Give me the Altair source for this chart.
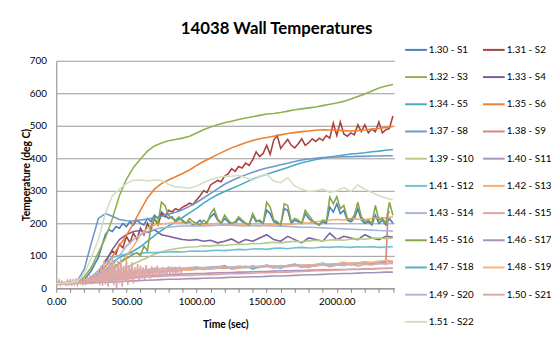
import altair as alt
import pandas as pd

# ---------------- data ----------------
T50 = list(range(0, 2401, 50))
T25 = list(range(0, 2401, 25))
T_PINK = list(range(0, 901, 10)) + list(range(950, 2401, 50))
T_S9 = list(range(0, 2351, 50)) + [2365, 2375, 2400]

names = ["1.30 - S1", "1.31 - S2", "1.32 - S3", "1.33 - S4", "1.34 - S5", "1.35 - S6",
         "1.37 - S8", "1.38 - S9", "1.39 - S10", "1.40 - S11", "1.41 - S12", "1.42 - S13",
         "1.43 - S14", "1.44 - S15", "1.45 - S16", "1.46 - S17", "1.47 - S18", "1.48 - S19",
         "1.49 - S20", "1.50 - S21", "1.51 - S22"]

colors = ["#4A7EBB", "#A8423F", "#8FB24E", "#7B5E9E", "#46AAC5", "#EC8132",
          "#6F96CC", "#D88080", "#B5CC88", "#A896C0", "#6DBFD3", "#F9AC6E",
          "#A3B7D9", "#E1A3A2", "#86A64C", "#A392BE", "#4FB3CC", "#FBB27A",
          "#AAB9D4", "#DDA8A6", "#D3DFC0"]

s1 = [15, 15, 16, 16, 17, 18, 19, 22, 28, 40, 55, 75, 95, 130, 165, 180, 175, 190, 185, 200,
      190, 205, 195, 210, 200, 195, 215, 205, 225, 215, 235, 225, 215, 220, 205, 215, 210, 200,
      205, 195, 200, 210, 195, 205, 220, 230, 210, 200, 215, 205, 195, 200, 215, 205, 200, 195,
      225, 205, 210, 200, 240, 230, 205, 200, 195, 245, 240, 200, 210, 205, 200, 230, 215, 205,
      200, 195, 205, 200, 250, 235, 260, 230, 240, 210, 205, 215, 245, 210, 200, 205, 195, 225,
      200, 210, 195, 215, 200]
s2 = [15, 15, 16, 16, 17, 17, 18, 19, 22, 25, 30, 35, 45, 60, 85, 100, 115, 105, 135, 125,
      160, 140, 170, 150, 185, 165, 200, 180, 215, 195, 230, 220, 240, 235, 245, 240, 250, 255,
      262, 258, 272, 285, 300, 295, 318, 325, 332, 328, 345, 352, 368, 360, 375, 370, 385, 378,
      395, 420, 405, 415, 440, 412, 455, 470, 430, 445, 458, 440, 432, 445, 460, 440, 448, 460,
      452, 462, 455, 470, 462, 508, 470, 512, 475, 468, 478, 472, 503, 482, 503, 478, 490, 482,
      512, 478, 488, 492, 530]
s3 = [18, 18, 19, 20, 35, 65, 110, 155, 215, 285, 335, 372, 398, 422, 438, 447, 454, 458, 462,
      468, 478, 488, 496, 503, 509, 514, 519, 524, 528, 532, 536, 538, 541, 545, 549, 552, 555,
      558, 562, 566, 570, 575, 582, 590, 598, 607, 616, 622, 627]
s4 = [15, 16, 17, 18, 22, 30, 45, 80, 120, 150, 165, 175, 178, 172, 180, 165, 160, 155, 150,
      148, 150, 145, 148, 140, 145, 152, 140, 150, 145, 155, 165, 150, 145, 160, 150, 140, 155,
      150, 145, 170, 150, 160, 155, 150, 165, 155, 150, 160, 158]
s5 = [15, 15, 16, 17, 20, 26, 35, 55, 80, 95, 105, 115, 128, 145, 162, 178, 192, 205, 218, 232,
      246, 262, 276, 288, 298, 307, 316, 326, 336, 344, 351, 358, 365, 372, 379, 386, 391, 396,
      400, 404, 407, 410, 413, 415, 417, 420, 422, 425, 427]
s6 = [15, 15, 16, 17, 20, 28, 42, 66, 98, 132, 162, 200, 240, 278, 305, 322, 333, 343, 353,
      364, 378, 390, 401, 412, 422, 432, 440, 448, 455, 460, 464, 468, 472, 476, 479, 482, 484,
      486, 488, 487, 486, 485, 484, 485, 487, 490, 492, 495, 498]
s8 = [15, 16, 18, 22, 60, 140, 215, 230, 222, 212, 208, 207, 210, 213, 217, 222, 228, 234, 242,
      252, 264, 278, 292, 306, 320, 331, 341, 349, 357, 364, 370, 375, 380, 385, 390, 395, 398,
      400, 402, 403, 404, 405, 405, 406, 406, 407, 407, 408, 408]
s9 = [15, 15, 16, 17, 19, 22, 25, 28, 32, 36, 40, 44, 47, 50, 52, 54, 55, 56, 57, 58, 59, 60,
      61, 62, 62, 63, 64, 65, 65, 66, 67, 68, 68, 69, 70, 71, 72, 72, 73, 74, 75, 76, 77, 78, 78,
      79, 80, 80, 228, 238]
s10 = [15, 15, 16, 17, 20, 25, 30, 38, 45, 55, 65, 75, 85, 95, 105, 112, 118, 122, 125, 127,
       128, 131, 130, 133, 132, 134, 136, 135, 138, 137, 140, 142, 140, 143, 145, 143, 146, 148,
       146, 149, 150, 148, 151, 153, 151, 154, 155, 153, 155]
s11 = [15, 15, 16, 17, 18, 20, 22, 25, 28, 30, 33, 35, 37, 39, 40, 41, 42, 43, 44, 45, 46, 46,
       47, 48, 48, 49, 50, 50, 51, 52, 52, 53, 54, 54, 55, 55, 56, 56, 57, 57, 58, 58, 59, 59, 60,
       60, 61, 61, 62]
s12 = [15, 15, 16, 17, 22, 35, 55, 80, 95, 102, 105, 107, 108, 110, 110, 111, 112, 113, 112,
       114, 115, 114, 116, 117, 116, 118, 120, 119, 121, 122, 120, 123, 124, 122, 125, 126, 124,
       125, 127, 126, 128, 127, 126, 128, 127, 128, 126, 127, 128]
s13 = [15, 15, 16, 17, 20, 24, 30, 40, 55, 75, 100, 130, 165, 185, 195, 198, 200, 202, 203,
       200, 198, 196, 198, 200, 195, 197, 199, 196, 194, 192, 195, 197, 193, 196, 198, 200, 202,
       205, 207, 210, 212, 210, 215, 213, 212, 215, 218, 216, 220]
s14 = [15, 15, 16, 17, 20, 24, 30, 45, 70, 100, 130, 150, 165, 175, 182, 186, 188, 190, 192,
       192, 193, 192, 193, 194, 195, 194, 193, 192, 193, 194, 193, 192, 191, 190, 189, 188, 188,
       187, 186, 185, 184, 183, 182, 181, 180, 179, 178, 177, 176]
s15 = [15, 15, 16, 17, 18, 20, 22, 24, 26, 28, 30, 32, 34, 35, 36, 37, 38, 39, 40, 40, 41, 42,
       42, 43, 44, 45, 45, 46, 47, 48, 48, 49, 50, 50, 51, 52, 53, 54, 54, 55, 56, 57, 58, 58, 59,
       60, 61, 62, 62]
s16 = [15, 15, 16, 16, 17, 17, 18, 19, 20, 22, 25, 28, 32, 38, 45, 55, 62, 70, 78, 85, 92, 98,
       105, 110, 100, 130, 115, 190, 215, 200, 265, 255, 225, 215, 210, 220, 205, 200, 215, 205,
       200, 195, 210, 200, 230, 245, 215, 200, 225, 210, 200, 205, 220, 210, 200, 195, 230, 210,
       205, 200, 265, 250, 210, 205, 195, 260, 255, 205, 215, 210, 200, 240, 225, 210, 200, 195,
       210, 205, 280, 260, 282, 245, 255, 215, 210, 225, 265, 220, 205, 210, 200, 255, 210, 215,
       200, 265, 225]
s17 = [15, 15, 15, 16, 16, 17, 18, 19, 20, 21, 22, 23, 24, 25, 26, 27, 28, 28, 29, 30, 30, 31,
       32, 32, 33, 34, 34, 35, 36, 36, 37, 38, 38, 39, 40, 41, 42, 42, 43, 44, 45, 46, 46, 47, 48,
       48, 49, 50, 50]
s18 = [15, 15, 16, 17, 20, 25, 30, 35, 40, 45, 42, 50, 48, 52, 55, 50, 58, 55, 60, 57, 62, 58,
       60, 65, 70, 60, 62, 68, 60, 65, 72, 66, 62, 70, 75, 68, 65, 72, 78, 70, 75, 80, 72, 78, 82,
       76, 80, 85, 82]
s19 = [15, 15, 16, 17, 19, 22, 26, 30, 34, 38, 42, 45, 48, 50, 52, 54, 53, 55, 57, 56, 58, 60,
       59, 62, 64, 61, 63, 66, 64, 68, 70, 66, 65, 70, 72, 68, 70, 74, 76, 72, 75, 80, 76, 78, 82,
       80, 83, 86, 84]
s20 = [15, 15, 16, 17, 19, 22, 25, 30, 36, 42, 48, 52, 56, 58, 60, 61, 62, 63, 62, 64, 65, 64,
       66, 67, 65, 66, 68, 67, 66, 68, 70, 69, 68, 70, 71, 70, 69, 71, 72, 73, 72, 74, 73, 75, 76,
       74, 75, 77, 76]
s21 = [20, 12, 25, 10, 22, 15, 18, 10, 24, 12,
       28, 8, 25, 12, 30, 10, 22, 14, 26, 9,
       32, 10, 35, 15, 40, 12, 38, 18, 45, 15,
       55, 10, 70, 8, 85, 12, 60, 5, 90, 20,
       95, 10, 75, 0, 85, 15, 92, 5, 70, 20,
       88, 10, 72, 25, 80, 15, 65, 30, 75, 20,
       70, 30, 65, 25, 72, 35, 60, 30, 68, 40,
       65, 38, 70, 35, 62, 42, 66, 40, 60, 45,
       68, 45, 62, 48, 66, 44, 60, 50, 64, 48,
       62,
       60, 66, 58, 64, 62, 68, 60, 66, 63, 70, 64, 68, 62, 70, 66, 72, 64, 70, 68, 74, 66, 72,
       70, 76, 68, 74, 72, 78, 74, 80]
s22 = [15, 16, 18, 22, 45, 95, 150, 230, 285, 305, 322, 332, 333, 330, 333, 332, 320, 312, 310,
       308, 315, 325, 335, 340, 345, 345, 348, 340, 333, 345, 352, 330, 325, 340, 315, 305, 298,
       300, 305, 295, 300, 310, 298, 318, 305, 295, 285, 278, 272]

series = [
    (T25, s1), (T25, s2), (T50, s3), (T50, s4), (T50, s5), (T50, s6),
    (T50, s8), (T_S9, s9), (T50, s10), (T50, s11), (T50, s12), (T50, s13),
    (T50, s14), (T50, s15), (T25, s16), (T50, s17), (T50, s18), (T50, s19),
    (T50, s20), (T_PINK, s21), (T50, s22),
]

rows = []
for order, (name, (ts, vs)) in enumerate(zip(names, series)):
    for t, v in zip(ts, vs):
        rows.append({"series": name, "order": order, "t": t, "v": v})
df = pd.DataFrame(rows)

# the legend fills its grid column by column: list the left column first
# (S1, S3, S5, ...) then the right one, so it reads row by row like the original
legend_names = names[0::2] + names[1::2]
legend_colors = colors[0::2] + colors[1::2]

FONT = "Lato"

chart = alt.Chart(df).mark_line(strokeWidth=1.6, clip=True).encode(
    x=alt.X("t:Q", scale=alt.Scale(domain=[0, 2410], nice=False, zero=False),
            axis=alt.Axis(title="Time (sec)", values=list(range(0, 2401, 100)),
                          labelExpr="datum.value % 500 == 0 ? format(datum.value, '.2f') : ''",
                          labelFlush=False, grid=False, tickSize=4, labelPadding=4,
                          titlePadding=14)),
    y=alt.Y("v:Q", scale=alt.Scale(domain=[0, 700], nice=False),
            axis=alt.Axis(title="Temperature (deg C)", values=list(range(0, 701, 100)),
                          grid=True, tickSize=0, labelPadding=10, titlePadding=-2, domain=True)),
    color=alt.Color("series:N", scale=alt.Scale(domain=legend_names, range=legend_colors),
                    legend=alt.Legend(title=None, orient="none", legendX=353, legendY=-23,
                                      columns=2, symbolType="stroke", symbolSize=484,
                                      symbolStrokeWidth=2, rowPadding=10.6, columnPadding=5,
                                      labelFontSize=10, labelFont=FONT, labelColor="#000000",
                                      labelOffset=1, gridAlign="all", labelLimit=60)),
    order=alt.Order("order:Q"),
    detail="series:N",
).properties(
    width=343, height=231,
    title=alt.TitleParams("14038 Wall Temperatures", font=FONT, fontSize=17, fontWeight="bold",
                          color="#000000", anchor="middle", dx=52, offset=0, frame="group"),
    autosize=alt.AutoSizeParams(type="none"),
    padding={"left": 49, "top": 51, "right": 159, "bottom": 58},
).configure_view(stroke=None).configure_axis(
    labelFont=FONT, titleFont=FONT, labelFontSize=10, titleFontSize=10.5, titleFontWeight="bold",
    labelColor="#000000", titleColor="#000000", domainColor="#868686", tickColor="#868686",
    gridColor="#999999", gridWidth=1
)

chart.save("out.html", embed_options={"renderer": "svg", "actions": False})
